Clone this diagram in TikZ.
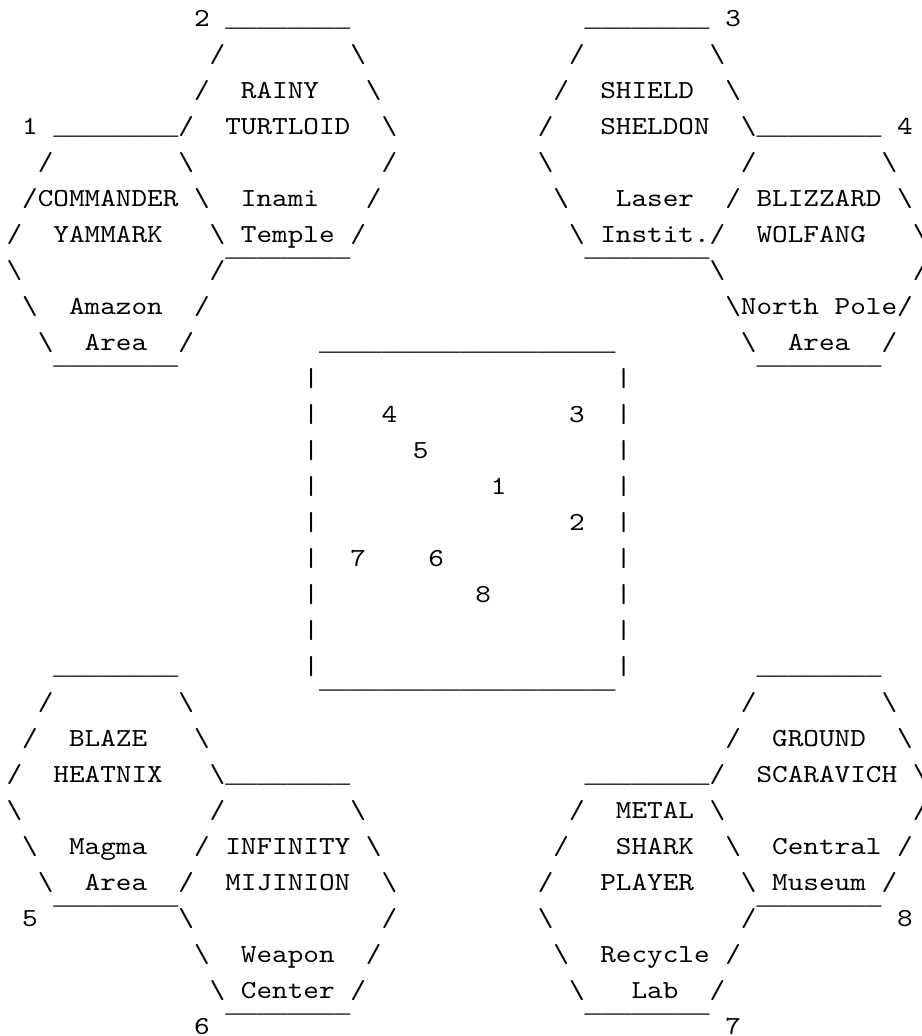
\documentclass[tikz,border=0pt]{standalone}
\usepackage{fontspec}
\newfontfamily\asciifont[FakeStretch=1.1447]{lmmono10-regular.otf}
\newfontfamily\linefont{Liberation Mono}

\newcommand\fsl{/}
\newcommand\bsl{\textbackslash}
\newcommand\usc{{\linefont\_\_\_\_\_\_\_\_}}
\newcommand\mac{{\linefont ¯¯¯¯¯¯¯¯}}
\newcommand\boxtop{{\linefont\_\_\_\_\_\_\_\_\_\_\_\_\_\_\_\_\_\_\_}}
\newcommand\boxbot{{\linefont ¯¯¯¯¯¯¯¯¯¯¯¯¯¯¯¯¯¯¯}}
% one line of the map: row number, then column/text pairs
\newcommand\maprow[2]{%
  \foreach \c/\t in {#2}
    \node[asc] (r#1c\c) at ({6.6+15.625*\c},{26+36*#1}) {\t};}

\begin{document}
\begin{tikzpicture}[x=1pt, y=-1pt,
  asc/.style={font=\asciifont\fontsize{26}{30}\selectfont, anchor=base west,
    inner sep=0pt, outer sep=0pt, text=black}]
  \fill [white] (0,0) rectangle (921,1036);
  \useasboundingbox (0,0) rectangle (921,1036);

  % top hexagons
  \maprow{0}{12/2, 14/\usc, 37/\usc, 46/3}
  \maprow{1}{13/\fsl, 22/\bsl, 36/\fsl, 45/\bsl}
  \maprow{2}{12/\fsl, 15/RAINY, 23/\bsl, 35/\fsl, 38/SHIELD, 46/\bsl}
  \maprow{3}{1/1, 3/\usc, 11/\fsl, 14/TURTLOID, 24/\bsl, 34/\fsl, 38/SHELDON, 47/\bsl, 48/\usc, 57/4}
  \maprow{4}{2/\fsl, 11/\bsl, 24/\fsl, 34/\bsl, 47/\fsl, 56/\bsl}
  \maprow{5}{1/\fsl, 2/COMMANDER, 12/\bsl, 15/Inami, 23/\fsl, 35/\bsl, 39/Laser, 46/\fsl, 48/BLIZZARD, 57/\bsl}
  \maprow{6}{0/\fsl, 3/YAMMARK, 13/\bsl, 15/Temple, 22/\fsl, 36/\bsl, 38/Instit., 45/\fsl, 48/WOLFANG, 58/\bsl}
  \maprow{7}{0/\bsl, 13/\fsl, 14/\mac, 37/\mac, 45/\bsl, 58/\fsl}
  \maprow{8}{1/\bsl, 4/Amazon, 12/\fsl, 46/\bsl, 47/North, 53/Pole, 57/\fsl}
  \maprow{9}{2/\bsl, 5/Area, 11/\fsl, 20/\boxtop, 47/\bsl, 50/Area, 56/\fsl}

  % stage select box
  \maprow{10}{3/\mac, 19/|, 39/|, 48/\mac}
  \maprow{11}{19/|, 24/4, 36/3, 39/|}
  \maprow{12}{19/|, 26/5, 39/|}
  \maprow{13}{19/|, 31/1, 39/|}
  \maprow{14}{19/|, 36/2, 39/|}
  \maprow{15}{19/|, 22/7, 27/6, 39/|}
  \maprow{16}{19/|, 30/8, 39/|}
  \maprow{17}{19/|, 39/|}
  \maprow{18}{3/\usc, 19/|, 39/|, 48/\usc}

  % bottom hexagons
  \maprow{19}{2/\fsl, 11/\bsl, 20/\boxbot, 47/\fsl, 56/\bsl}
  \maprow{20}{1/\fsl, 4/BLAZE, 12/\bsl, 46/\fsl, 49/GROUND, 57/\bsl}
  \maprow{21}{0/\fsl, 3/HEATNIX, 13/\bsl, 14/\usc, 37/\usc, 45/\fsl, 48/SCARAVICH, 58/\bsl}
  \maprow{22}{0/\bsl, 13/\fsl, 22/\bsl, 36/\fsl, 39/METAL, 45/\bsl, 58/\fsl}
  \maprow{23}{1/\bsl, 4/Magma, 12/\fsl, 14/INFINITY, 23/\bsl, 35/\fsl, 39/SHARK, 46/\bsl, 49/Central, 57/\fsl}
  \maprow{24}{2/\bsl, 5/Area, 11/\fsl, 14/MIJINION, 24/\bsl, 34/\fsl, 38/PLAYER, 47/\bsl, 49/Museum, 56/\fsl}
  \maprow{25}{1/5, 3/\mac, 11/\bsl, 24/\fsl, 34/\bsl, 47/\fsl, 48/\mac, 57/8}
  \maprow{26}{12/\bsl, 15/Weapon, 23/\fsl, 35/\bsl, 38/Recycle, 46/\fsl}
  \maprow{27}{13/\bsl, 15/Center, 22/\fsl, 36/\bsl, 40/Lab, 45/\fsl}
  \maprow{28}{12/6, 14/\mac, 37/\mac, 46/7}
\end{tikzpicture}
\end{document}
